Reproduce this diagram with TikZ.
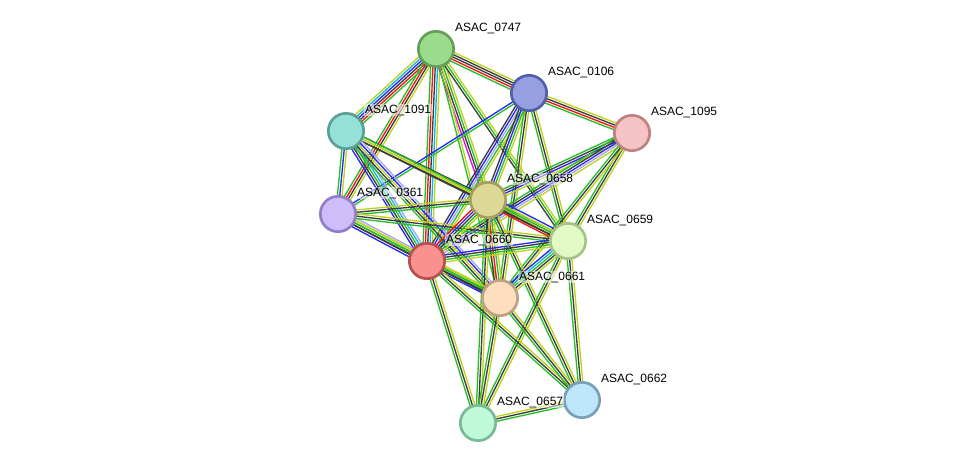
\documentclass[tikz,border=0pt]{standalone}
\usepackage{fontspec}
\setmainfont{Liberation Sans}
\usetikzlibrary{calc}
\pgfdeclarelayer{bg}
\pgfdeclarelayer{fg}
\pgfsetlayers{bg,main,fg}
\definecolor{G}{RGB}{40,190,40}
\definecolor{R}{RGB}{245,20,20}
\definecolor{B}{RGB}{40,40,245}
\definecolor{K}{RGB}{60,60,60}
\definecolor{Y}{RGB}{190,210,30}
\definecolor{C}{RGB}{20,180,225}
\definecolor{M}{RGB}{215,20,215}
\definecolor{P}{RGB}{165,165,240}
\definecolor{f747}{RGB}{155,220,140}\definecolor{d747}{RGB}{100,160,90}
\definecolor{f106}{RGB}{150,160,225}\definecolor{d106}{RGB}{80,95,170}
\definecolor{f1095}{RGB}{245,195,195}\definecolor{d1095}{RGB}{190,130,130}
\definecolor{f1091}{RGB}{150,225,215}\definecolor{d1091}{RGB}{90,160,150}
\definecolor{f658}{RGB}{220,218,150}\definecolor{d658}{RGB}{165,160,95}
\definecolor{f361}{RGB}{205,190,250}\definecolor{d361}{RGB}{145,125,200}
\definecolor{f659}{RGB}{225,250,195}\definecolor{d659}{RGB}{165,195,135}
\definecolor{f660}{RGB}{250,145,145}\definecolor{d660}{RGB}{185,80,80}
\definecolor{f661}{RGB}{253,222,190}\definecolor{d661}{RGB}{190,160,130}
\definecolor{f662}{RGB}{190,230,250}\definecolor{d662}{RGB}{120,160,185}
\definecolor{f657}{RGB}{190,250,215}\definecolor{d657}{RGB}{120,185,150}
\newcommand\prot[6]{%
  \node[prot, fill=#4, draw=#5] (#1) at (#2,#3) {};
  \begin{pgfonlayer}{fg}
   \node[lbl] (#1l) at (#2+18,#3-21) {#6};
  \end{pgfonlayer}}
\newcommand\bund[4]{%
  \foreach \c [count=\i] in {#4}{%
    \pgfmathsetmacro\off{(\i-(#3+1)/2)*1.75}%
    \draw[color=\c, line width=1.0pt] ($(#1)!\off pt!90:(#2)$) -- ($(#2)!\off pt!-90:(#1)$);
  }}
\begin{document}
\begin{tikzpicture}[x=0.75pt,y=-0.75pt,
  prot/.style={circle, line width=2pt, minimum size=26.5pt, inner sep=0pt},
  lbl/.style={anchor=west, font=\fontsize{9}{10}\selectfont, inner sep=0.6pt,
    fill=white, fill opacity=0.5, text opacity=1}]
\begin{pgfonlayer}{bg}
\fill[white] (0,0) rectangle (975,469);
\end{pgfonlayer}
\useasboundingbox (0,0) rectangle (975,469);
\prot{a747}{436}{49}{f747}{d747}{ASAC\_0747}
\prot{a106}{529}{93}{f106}{d106}{ASAC\_0106}
\prot{a1095}{632}{133}{f1095}{d1095}{ASAC\_1095}
\prot{a1091}{346}{131}{f1091}{d1091}{ASAC\_1091}
\prot{a658}{488}{200}{f658}{d658}{ASAC\_0658}
\prot{a361}{338}{214}{f361}{d361}{ASAC\_0361}
\prot{a659}{568}{241}{f659}{d659}{ASAC\_0659}
\prot{a660}{427}{261}{f660}{d660}{ASAC\_0660}
\prot{a661}{500}{298}{f661}{d661}{ASAC\_0661}
\prot{a662}{582}{400}{f662}{d662}{ASAC\_0662}
\prot{a657}{478}{423}{f657}{d657}{ASAC\_0657}
\begin{pgfonlayer}{bg}
\bund{a747}{a106}{5}{G,R,K,K,Y}
\bund{a106}{a1095}{4}{G,R,K,Y}
\bund{a747}{a1091}{6}{Y,C,B,K,R,G}
\bund{a747}{a361}{4}{G,R,K,Y}
\bund{a747}{a660}{5}{G,R,K,C,Y}
\bund{a747}{a658}{4}{M,K,G,Y}
\bund{a747}{a661}{2}{G,Y}
\bund{a747}{a659}{3}{K,G,Y}
\bund{a106}{a361}{2}{B,G}
\bund{a106}{a660}{5}{K,B,P,G,Y}
\bund{a106}{a658}{4}{K,B,G,Y}
\bund{a106}{a661}{3}{G,K,Y}
\bund{a106}{a659}{3}{G,K,Y}
\bund{a1095}{a658}{4}{G,K,B,Y}
\bund{a1095}{a659}{3}{G,K,Y}
\bund{a1095}{a660}{5}{G,K,B,P,Y}
\bund{a1095}{a661}{3}{G,K,Y}
\bund{a1091}{a658}{3}{K,Y,K}
\bund{a1091}{a660}{5}{B,K,G,C,P}
\bund{a1091}{a361}{3}{G,B,Y}
\bund{a1091}{a659}{3}{K,Y,G}
\bund{a1091}{a661}{5}{G,K,Y,B,P}
\bund{a361}{a658}{3}{G,K,Y}
\bund{a361}{a660}{5}{B,K,G,Y,P}
\bund{a361}{a659}{3}{G,K,Y}
\bund{a361}{a661}{3}{K,G,Y}
\bund{a658}{a660}{5}{R,B,K,G,Y}
\bund{a658}{a659}{5}{R,K,G,Y,B}
\bund{a658}{a661}{4}{K,R,G,Y}
\bund{a658}{a657}{3}{G,K,Y}
\bund{a658}{a662}{3}{G,K,Y}
\bund{a659}{a660}{4}{B,K,G,Y}
\bund{a659}{a661}{5}{B,C,G,K,Y}
\bund{a659}{a662}{3}{G,K,Y}
\bund{a659}{a657}{3}{G,K,Y}
\bund{a660}{a661}{4}{B,K,G,Y}
\bund{a660}{a657}{3}{G,K,Y}
\bund{a660}{a662}{3}{G,K,Y}
\bund{a661}{a657}{3}{G,K,Y}
\bund{a661}{a662}{3}{G,K,Y}
\bund{a657}{a662}{3}{G,K,Y}
\end{pgfonlayer}
\end{tikzpicture}
\end{document}
